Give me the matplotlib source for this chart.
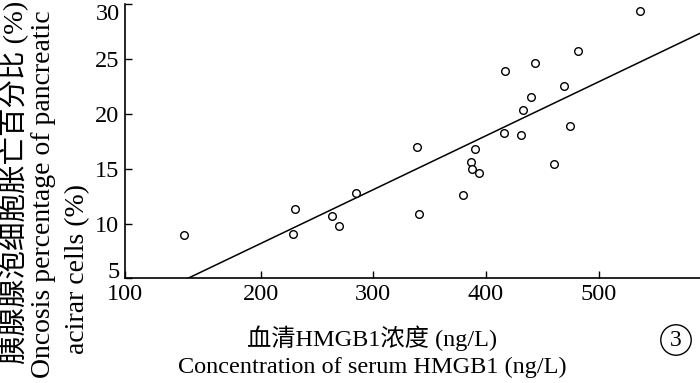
import matplotlib
matplotlib.use('Agg')
import matplotlib.pyplot as plt

# 数据
hmgb1 = [131.7, 228.9, 230.7, 263.0, 269.7, 284.6, 338.4, 340.7, 379.8, 386.6,
         387.8, 389.9, 393.4, 415.9, 417.0, 430.7, 432.5, 439.6, 443.4, 460.5,
         469.4, 474.7, 481.3, 536.3]
oncosis = [8.95, 9.01, 11.35, 10.68, 9.77, 12.78, 16.98, 10.89, 12.63, 15.61,
           15.0, 16.77, 14.58, 18.23, 23.94, 18.05, 20.33, 21.54, 24.67, 15.40,
           22.52, 18.87, 25.77, 29.4]

# 回归线端点
fit_x = [135.5, 590.0]
fit_y = [5.0, 27.35]

x_ticks = [79.6, 200, 300, 400, 500]
x_tick_labels = ['100', '200', '300', '400', '500']
y_ticks = [5, 10, 15, 20, 25, 30]

serif = ['Liberation Serif', 'Noto Sans CJK SC']
plt.rcParams['font.family'] = serif

fig = plt.figure(figsize=(7, 3.83), dpi=100)
ax = fig.add_axes([125 / 700, (383 - 278.3) / 383, 575 / 700, 274 / 383])

ax.plot(fit_x, fit_y, color='black', linewidth=1.1, clip_on=True)
ax.plot(hmgb1, oncosis, linestyle='none', marker='o', markersize=5.5,
        markerfacecolor='white', markeredgecolor='black', markeredgewidth=1.0)

ax.set_xlim(79.6, 590)
ax.set_ylim(5, 30)
ax.set_xticks(x_ticks, x_tick_labels)
ax.set_yticks(y_ticks)
ax.spines['top'].set_visible(False)
ax.spines['right'].set_visible(False)
for s in ['left', 'bottom']:
    ax.spines[s].set_linewidth(1.2)
ax.tick_params(direction='in', length=5, width=1.0, labelsize=17.5, pad=4)
# 顶端的 30 向下对齐, 底端的 5 稍微上移, 和 100 分开
ax.get_yticklabels()[-1].set_verticalalignment('top')
ax.get_yticklabels()[0].set_verticalalignment('baseline')

# x 轴标题
fig.text(372 / 700, 1 - 338 / 383, '血清HMGB1浓度 (ng/L)', fontsize=17.5,
         ha='center', va='center')
fig.text(372 / 700, 1 - 367 / 383, 'Concentration of serum HMGB1 (ng/L)',
         fontsize=17.5, ha='center', va='center')

# y 轴标题
fig.text(14 / 700, 1 - 364 / 383, '胰腺腺泡细胞胀亡百分比 (%)', fontsize=20.5,
         rotation=90, ha='center', va='bottom')
fig.text(44 / 700, 1 - 378 / 383, 'Oncosis percentage of pancreatic',
         fontsize=20, rotation=90, ha='center', va='bottom')
fig.text(78 / 700, 1 - 354 / 383, 'acirar cells (%)', fontsize=20,
         rotation=90, ha='center', va='bottom')

# 图号
fig.text(676 / 700, 1 - 340 / 383, '3', fontsize=17, ha='center', va='center',
         bbox=dict(boxstyle='circle,pad=0.2', facecolor='white',
                   edgecolor='black', linewidth=1.0))

plt.savefig('out.png', dpi=100)
